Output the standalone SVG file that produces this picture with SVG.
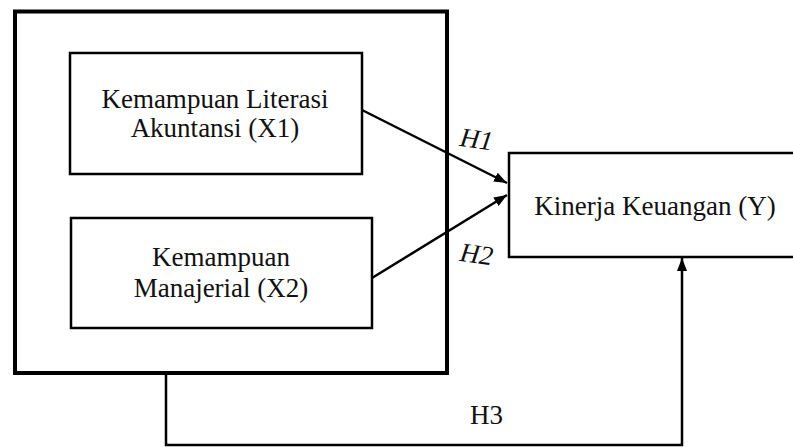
<svg xmlns="http://www.w3.org/2000/svg" width="793" height="447" viewBox="0 0 793 447">
<defs>
<marker id="arr" markerUnits="userSpaceOnUse" markerWidth="14" markerHeight="10" refX="13" refY="5" orient="auto">
<path d="M0,0 L13,5 L0,10 Z" fill="#000"/>
</marker>
</defs>
<style>
.box{fill:#fff;stroke:#000;stroke-width:2.5}
.outer{fill:#fff;stroke:#000;stroke-width:4}
.t{font-family:"Liberation Serif","Times New Roman",serif;font-size:27px;fill:#111;text-anchor:middle}
.lbl{font-family:"Liberation Serif","Times New Roman",serif;font-size:27px;fill:#111}
.c{fill:none;stroke:#000;stroke-width:2.5}
</style>
<rect width="793" height="447" fill="#fff"/>
<g id="group-x">
<rect class="outer" x="15" y="11.5" width="432" height="361.5"/>
</g>
<g id="node-x1">
<rect class="box" x="70" y="53" width="292" height="121"/>
<text class="t" x="215" y="108">Kemampuan Literasi</text>
<text class="t" x="215" y="137">Akuntansi (X1)</text>
</g>
<g id="node-x2">
<rect class="box" x="71" y="218" width="301" height="110"/>
<text class="t" x="221" y="266">Kemampuan</text>
<text class="t" x="221" y="297">Manajerial (X2)</text>
</g>
<g id="node-y">
<rect class="box" x="509" y="153" width="300" height="104"/>
<text class="t" x="655" y="215">Kinerja Keuangan (Y)</text>
</g>
<g id="connectors">
<line class="c" x1="362" y1="110" x2="507" y2="183" marker-end="url(#arr)"/>
<line class="c" x1="372" y1="278" x2="507" y2="195" marker-end="url(#arr)"/>
<path class="c" d="M166,373 V445 H682 V258" marker-end="url(#arr)"/>
<text class="lbl" x="460" y="148" font-style="italic" transform="rotate(8 475 140)">H1</text>
<text class="lbl" x="460" y="263" font-style="italic" transform="rotate(8 475 255)">H2</text>
<text class="lbl" x="470" y="424">H3</text>
</g>
</svg>
